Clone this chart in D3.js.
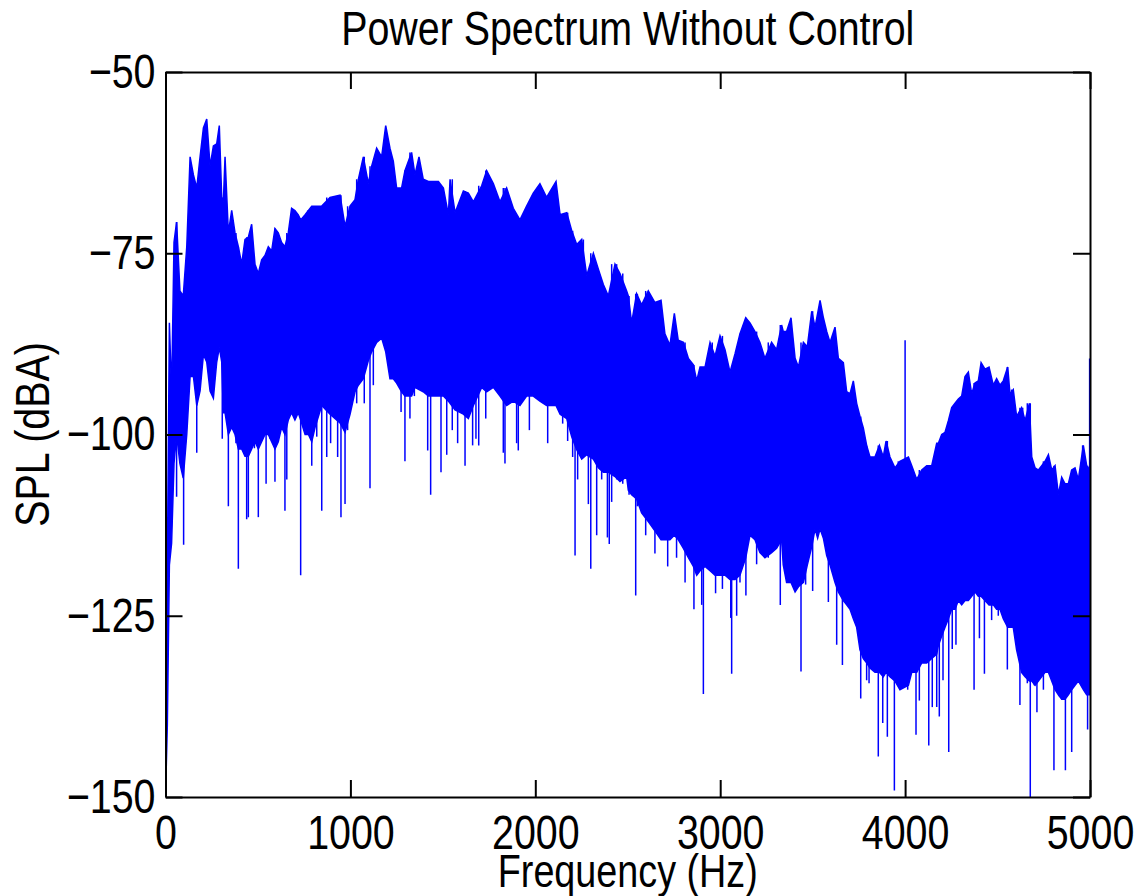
<!DOCTYPE html>
<html>
<head>
<meta charset="utf-8">
<script src="https://cdn.jsdelivr.net/npm/d3@7"></script>
<style>
body { margin: 0; background: #fff; }
svg text { font-family: "Liberation Sans", Arial, sans-serif; fill: #000; }
</style>
</head>
<body>
<script>
// dense part of the spectrum: frequency (Hz), top and bottom of the band (dBA)
var freqs = [0, 10, 21, 33, 46, 60, 78, 96, 115, 133, 151, 169, 187, 205, 223, 241, 259, 277, 291, 304, 313, 322, 340, 358, 376, 394, 412, 430, 448, 466, 484, 502, 520, 538, 556, 574, 592, 610, 628, 646, 664, 682, 700, 718, 731, 755, 773, 791, 809,
  845, 890, 944, 971, 998, 1025, 1043, 1070, 1097, 1115, 1142, 1169, 1191, 1214, 1232, 1250, 1277, 1295, 1331, 1349, 1371, 1394, 1422, 1449, 1476, 1503, 1530, 1539, 1566, 1611, 1638,
  1665, 1710, 1737, 1773, 1809, 1845, 1881, 1917, 1953, 1989, 2025, 2061, 2112, 2134, 2170, 2197, 2224, 2251, 2278, 2314, 2341, 2368, 2395, 2431, 2458, 2494,
  2503, 2521, 2548, 2575, 2611, 2647, 2680, 2701, 2728, 2752, 2773, 2801, 2828, 2855, 2873, 2891, 2918, 2945, 2972, 2999, 3026, 3053, 3080, 3107, 3138, 3161, 3188, 3215, 3242, 3278, 3305, 3332,
  3341, 3359, 3383, 3405, 3423, 3450, 3471, 3495, 3513, 3527, 3540, 3558, 3576, 3594, 3621, 3639, 3666, 3684, 3702, 3720, 3738, 3756, 3774, 3792, 3810, 3837, 3861, 3882, 3897, 3918, 3945, 3972, 4018, 4036, 4063, 4090, 4117, 4144, 4171,
  4180, 4198, 4216, 4234, 4252, 4270, 4288, 4306, 4324, 4342, 4360, 4378, 4396, 4411, 4432, 4454, 4477, 4495, 4513, 4531, 4555, 4567, 4585, 4603, 4630, 4649, 4672, 4685, 4703, 4721, 4739, 4757, 4775, 4793, 4811, 4829, 4847, 4865, 4883, 4901, 4919, 4937, 4964, 4982, 5000];

var upperDb = [-128, -118.5, -84.6, -94.4, -73.5, -70.7, -80.2, -80.9, -74.1, -61.7, -64.2, -66.0, -61.7, -57.7, -56.5, -63.0, -60.2, -59.9, -57.4, -67.3, -67.9, -61.7, -72.2, -69.1, -72.2, -74.1, -76.5, -73.1, -72.8, -71.0, -76.5, -77.8, -75.9, -75.3, -74.1, -74.7, -71.6, -72.2, -73.5, -74.1, -72.2, -68.8, -69.1, -69.7, -70.4, -69.7, -69.1, -68.5, -68.5,
  -68.5, -67.3, -67.0, -71.3, -68.5, -67.6, -64.8, -61.7, -65.4, -63.0, -60.5, -61.7, -57.4, -60.5, -62.3, -66.0, -66.0, -63.6, -61.1, -64.2, -61.7, -64.8, -65.1, -65.1, -65.1, -66.0, -69.7, -64.8, -69.4, -66.4, -66.7,
  -67.9, -65.7, -63.6, -65.4, -67.9, -66.0, -68.8, -70.4, -68.5, -66.7, -65.4, -67.3, -65.1, -69.7, -69.4, -71.9, -73.8, -73.1, -78.1, -75.0, -77.2, -79.3, -80.9, -76.5, -77.8, -80.2,
  -80.9, -84.6, -80.6, -82.1, -80.2, -81.8, -81.5, -86.1, -87.7, -83.3, -87.0, -87.3, -89.5, -90.4, -92.6, -90.7, -90.7, -87.3, -89.2, -86.4, -88.3, -91.4, -88.9, -86.1, -83.9, -84.6, -85.8, -87.3, -89.5, -87.3, -88.3, -84.9,
  -85.8, -85.8, -83.9, -89.5, -90.7, -87.3, -87.9, -83.0, -85.2, -83.3, -81.5, -83.9, -85.8, -87.3, -85.2, -89.5, -90.1, -94.1, -94.4, -92.6, -95.7, -97.5, -99.1, -101.5, -103.1, -103.1, -101.5, -103.1, -100.9, -103.1, -104.6, -103.7, -103.1, -104.3, -106.2, -104.9, -104.3, -104.3, -101.2,
  -101.2, -100.0, -99.7, -98.1, -96.3, -95.7, -95.1, -94.7, -92.0, -91.4, -94.4, -92.9, -92.6, -90.1, -91.0, -90.7, -93.2, -92.3, -93.2, -92.6, -90.7, -94.4, -93.8, -97.5, -96.3, -98.1, -95.7, -103.1, -104.6, -104.9, -104.3, -103.7, -102.8, -104.9, -104.3, -108.3, -105.9, -106.8, -106.8, -104.9, -104.6, -106.2, -101.5, -104.3, -104.9];

var lowerDb = [-150, -140, -118, -115, -104, -100, -104, -106, -100, -92, -92, -96, -94, -89, -90, -94, -95, -90, -88, -90, -97, -97, -100, -99, -100, -102, -102, -103, -103, -102, -101, -102, -101, -100, -100, -101, -102, -101, -99, -100, -98, -97, -98, -97, -98, -100, -100, -101, -99,
  -96.0, -97.2, -98.4, -99.7, -97.2, -94.1, -93.2, -92.3, -89.8, -88.6, -87.3, -86.7, -88.6, -92.3, -92.3, -92.9, -94.1, -94.7, -94.7, -93.5, -93.8, -94.1, -94.7, -94.7, -94.7, -94.7, -95.4, -95.7, -96.6, -97.2, -97.8,
  -96.0, -93.5, -94.1, -93.5, -94.7, -96.0, -95.4, -96.0, -94.7, -94.7, -95.4, -96.0, -96.0, -97.2, -97.8, -100.3, -102.1, -103.4, -102.8, -103.4, -104.6, -105.2, -105.2, -105.8, -106.5, -105.8,
  -107.7, -108.3, -108.9, -110.8, -112.0, -113.3, -114.5, -114.5, -114.5, -113.9, -114.5, -115.7, -117.0, -118.2, -119.4, -118.8, -118.2, -118.8, -119.4, -119.4, -119.4, -120.0, -120.0, -119.4, -117.0, -113.9, -114.5, -116.3, -117.0, -116.3, -115.7, -114.5,
  -118.0, -120.4, -120.4, -121.7, -121.0, -120.4, -118.0, -115.5, -113.0, -114.3, -113.0, -114.3, -116.7, -118.0, -120.4, -121.7, -122.9, -123.5, -124.1, -125.4, -126.6, -129.7, -130.9, -131.5, -132.2, -132.8, -132.8, -133.4, -132.8, -133.4, -134.0, -135.2, -134.6, -132.8, -132.8, -131.5, -131.5, -130.9, -130.3,
  -129.1, -127.8, -126.6, -125.4, -124.1, -124.1, -122.9, -123.5, -122.9, -122.9, -122.3, -121.7, -122.3, -122.3, -122.9, -123.5, -123.5, -124.1, -124.1, -125.4, -126.6, -126.6, -126.6, -129.7, -132.8, -133.4, -134.0, -134.0, -134.6, -134.0, -133.4, -132.8, -132.8, -134.0, -135.2, -135.9, -136.5, -136.5, -135.9, -135.2, -134.6, -134.0, -135.2, -135.9, -135.9];

// single deep dips below the band (Hz, dBA)
var dipFreqs = [60, 98, 169, 307, 340, 381, 394, 439, 448, 481, 502, 544, 565, 592, 646, 656, 731, 769, 791, 818,
  845, 872, 893, 931, 949, 971, 985, 1034, 1075, 1106, 1124, 1274, 1295, 1322, 1346, 1394, 1418, 1434, 1490, 1521, 1551, 1580, 1620,
  1661, 1679, 1694, 1732, 1827, 1836, 1899, 1908, 1968, 2067, 2148, 2175, 2202, 2215, 2229, 2260, 2287, 2300, 2332, 2359, 2390, 2400, 2413, 2440, 2473,
  2507, 2543, 2552, 2597, 2629, 2647, 2716, 2764, 2810, 2858, 2876, 2900, 2909, 2957, 2975, 3012, 3044, 3057, 3062, 3089, 3107, 3139, 3197, 3260, 3325,
  3405, 3437, 3462, 3500, 3585, 3630, 3661, 3760, 3792, 3805, 3855, 3879, 3904, 3942, 3963, 4014, 4059, 4077, 4128, 4147,
  4171, 4185, 4205, 4236, 4255, 4275, 4373, 4402, 4429, 4468, 4504, 4553, 4576, 4621, 4636, 4661, 4677, 4699, 4713, 4748, 4805, 4834, 4867, 4901, 4933, 4960, 4987];
var dipDb = [-108.6, -115.2, -102.5, -100.6, -109.9, -101.2, -118.5, -111.7, -111.4, -101.9, -111.4, -106.8, -100.6, -106.5, -110.5, -106.2, -119.4, -100.0, -104.3, -100.3,
  -110.5, -103.1, -101.2, -103.1, -111.4, -109.6, -99.4, -95.7, -95.7, -107.4, -93.2, -96.9, -103.7, -97.8, -94.7, -93.2, -102.2, -108.3, -105.2, -102.8, -99.4, -101.2, -104.3,
  -101.5, -100.6, -101.5, -97.8, -102.5, -104.0, -101.2, -102.2, -99.4, -101.2, -98.5, -100.9, -103.1, -116.7, -106.2, -101.2, -109.6, -118.5, -113.9, -106.2, -114.2, -115.1, -109.3, -106.2, -106.8,
  -108.3, -122.2, -109.9, -113.9, -111.7, -116.4, -118.2, -117.0, -120.4, -124.1, -119.1, -123.5, -135.8, -118.2, -121.9, -121.3, -117.3, -125.3, -133.0, -125.0, -120.4, -122.2, -117.9, -117.0, -123.5,
  -118.2, -132.7, -120.7, -121.6, -123.1, -129.0, -131.8, -136.4, -133.9, -134.3, -144.4, -139.8, -141.7, -149.1, -133.3, -135.2, -141.4, -136.7, -142.9, -137.6,
  -137.6, -138.9, -133.9, -143.8, -129.6, -129.0, -135.2, -128.1, -133.0, -125.6, -125.0, -132.4, -123.5, -137.3, -132.7, -134.3, -150.0, -134.6, -138.3, -135.2, -146.3, -136.1, -146.3, -143.8, -133.9, -134.6, -140.7];

// single spikes above the band
var peakFreqs = [4000, 4998];
var peakDb = [-87.0, -89.5];

var xTicks = [0, 1000, 2000, 3000, 4000, 5000];
var yTicks = [-150, -125, -100, -75, -50];

var drawSpectrum = function()
{
  var width = 1143;
  var height = 896;
  var plotLeft = 165.5, plotRight = 1090, plotTop = 72, plotBottom = 797;
  var blue = "#0000ff";
  var fontSize = 48;
  var squeeze = 0.82;   // the original lettering is narrower than Liberation Sans
  var tickLen = 17;

  var svg = d3.select("body").append("svg")
      .attr("width", width)
      .attr("height", height);

  var x = d3.scaleLinear().domain([0, 5000]).range([plotLeft, plotRight]);
  var y = d3.scaleLinear().domain([-150, -50]).range([plotBottom, plotTop]);

  svg.append("clipPath").attr("id", "plotclip")
    .append("rect")
      .attr("x", plotLeft).attr("y", plotTop)
      .attr("width", plotRight - plotLeft).attr("height", plotBottom - plotTop);

  var plot = svg.append("g").attr("clip-path", "url(#plotclip)");

  var band = freqs.map(function(f, i) {
    return {f: f, hi: upperDb[i], lo: lowerDb[i]};
  });

  var area = d3.area()
      .x(function(d) { return x(d.f); })
      .y0(function(d) { return y(d.lo); })
      .y1(function(d) { return y(d.hi); });

  plot.append("path")
      .datum(band)
      .attr("d", area)
      .attr("fill", blue)
      .attr("stroke", blue)
      .attr("stroke-width", 1.5);

  // nearest band sample for a spike
  var nearest = d3.bisector(function(d) { return d; }).center;

  plot.append("g").selectAll("line")
      .data(dipFreqs)
      .enter()
      .append("line")
      .attr("x1", function(d) { return x(d); })
      .attr("x2", function(d) { return x(d); })
      .attr("y1", function(d, i) { return y(dipDb[i]); })
      .attr("y2", function(d) { return y(upperDb[nearest(freqs, d)]); })
      .attr("stroke", blue)
      .attr("stroke-width", 1.5);

  plot.append("g").selectAll("line")
      .data(peakFreqs)
      .enter()
      .append("line")
      .attr("x1", function(d) { return x(d); })
      .attr("x2", function(d) { return x(d); })
      .attr("y1", function(d, i) { return y(peakDb[i]); })
      .attr("y2", function(d) { return y(lowerDb[nearest(freqs, d)]); })
      .attr("stroke", blue)
      .attr("stroke-width", 1.5);

  // axes: ticks point inwards on all four sides
  var fmt = d3.format("d");
  var styleAxis = function(g) {
    g.attr("font-size", fontSize).attr("font-family", null);
    g.selectAll("line").attr("stroke", "#000").attr("stroke-width", 2);
    g.selectAll("path.domain").attr("stroke", "#000").attr("stroke-width", 2);
    g.selectAll("text").attr("fill", "#000");
  };

  svg.append("g")
      .attr("transform", "translate(0," + plotBottom + ")")
      .call(d3.axisBottom(x).tickValues(xTicks).tickFormat(fmt).tickSize(-tickLen).tickSizeOuter(0).tickPadding(18))
      .call(styleAxis);

  svg.append("g")
      .attr("transform", "translate(0," + plotTop + ")")
      .call(d3.axisTop(x).tickValues(xTicks).tickFormat("").tickSize(-tickLen).tickSizeOuter(0))
      .call(styleAxis);

  svg.append("g")
      .attr("transform", "translate(" + plotLeft + ",0)")
      .call(d3.axisLeft(y).tickValues(yTicks).tickFormat(fmt).tickSize(-tickLen).tickSizeOuter(0).tickPadding(10))
      .call(styleAxis);

  svg.append("g")
      .attr("transform", "translate(" + plotRight + ",0)")
      .call(d3.axisRight(y).tickValues(yTicks).tickFormat("").tickSize(-tickLen).tickSizeOuter(0))
      .call(styleAxis);

  // titles
  svg.append("text")
      .attr("x", (plotLeft + plotRight) / 2)
      .attr("y", 45)
      .attr("text-anchor", "middle")
      .attr("font-size", fontSize)
      .text("Power Spectrum Without Control");

  svg.append("text")
      .attr("x", (plotLeft + plotRight) / 2)
      .attr("y", 887)
      .attr("text-anchor", "middle")
      .attr("font-size", 46)
      .text("Frequency (Hz)");

  svg.append("text")
      .attr("transform", "translate(49," + (plotTop + plotBottom) / 2 + ") rotate(-90)")
      .attr("text-anchor", "middle")
      .attr("font-size", fontSize)
      .text("SPL (dBA)");

  // narrow every label along its own reading direction
  svg.selectAll("text").each(function() {
    var t = d3.select(this);
    if (t.text() === "") return;
    var len = this.getComputedTextLength();
    t.attr("textLength", len * squeeze).attr("lengthAdjust", "spacingAndGlyphs");
  });
}

drawSpectrum();
</script>
</body>
</html>
